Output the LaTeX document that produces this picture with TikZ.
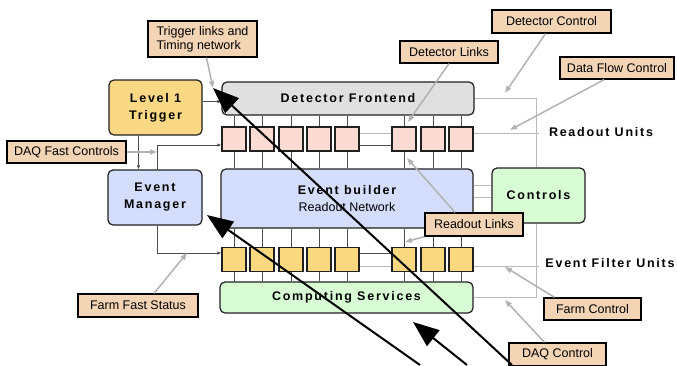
\documentclass[tikz,border=0pt]{standalone}
\usepackage{fontspec}
\setmainfont{Liberation Sans}
\newfontfamily\blockfont[LetterSpace=14]{Liberation Sans}
\usetikzlibrary{arrows.meta}

\begin{document}
\begin{tikzpicture}[x=1pt, y=-1pt,
    lbl/.style={draw=black, line width=1.3pt, fill=tanColour, inner sep=0pt, align=center,
        font=\fontsize{12.5}{14}\selectfont},
    block/.style={draw=borderColour, line width=1.2pt, rounded corners=5pt, inner sep=0pt, align=center,
        font=\blockfont\bfseries\fontsize{12.5}{17}\selectfont},
    tag/.style={inner sep=0pt, font=\blockfont\bfseries\fontsize{12.5}{14}\selectfont},
    unit/.style={draw=borderColour, line width=1.2pt, minimum width=24pt, minimum height=24pt, inner sep=0pt},
    bus/.style={draw=borderColour!80, line width=0.8pt},
    ctl/.style={draw=gray!55, line width=0.8pt},
    tick/.style={-{Latex[length=4pt, width=3.5pt]}},
    note/.style={draw=gray!60, line width=1.5pt, -{Triangle[length=7pt, width=5pt]}},
    pointer/.style={line width=2pt, -{Triangle[length=26pt, width=20pt]}}]

    % Define colours
    \definecolor{borderColour}{HTML}{202020}
    \definecolor{tanColour}{HTML}{F3D5B5}
    \definecolor{fillColourL1}{HTML}{FBD984}
    \definecolor{fillColourFE}{HTML}{E0E0E0}
    \definecolor{fillColourRU}{HTML}{FCDCD2}
    \definecolor{fillColourFU}{HTML}{FAD880}
    \definecolor{fillColourEB}{HTML}{D4DEFC}
    \definecolor{fillColourCS}{HTML}{D8FCD4}

    % Picture frame
    \clip (0,0) rectangle (677,365);

    % Main blocks
    \node[block, fill=fillColourL1, minimum width=93pt, minimum height=55pt] (l1) at (155.5,107.5) {Level 1\\Trigger};
    \node[block, fill=fillColourEB, minimum width=94pt, minimum height=55pt] (evm) at (155,197.5) {Event\\Manager};
    \node[block, fill=fillColourFE, minimum width=252pt, minimum height=33pt] (fe) at (348,98.5) {Detector Frontend};
    \node[block, fill=fillColourEB, minimum width=252pt, minimum height=59pt] (eb) at (347,198.5)
        {Event builder\\{\normalfont\fontsize{12.5}{15}\selectfont Readout Network}};
    \node[block, fill=fillColourCS, minimum width=93pt, minimum height=55pt] (ctrl) at (538.5,195.5) {Controls};
    \node[block, fill=fillColourCS, minimum width=253pt, minimum height=31pt] (cs) at (346.5,297.5) {Computing Services};

    % Readout units and event filter units
    \foreach \i/\x in {1/234,2/262,3/291,4/319,5/347,6/404,7/433,8/461} {
        \node[unit, fill=fillColourRU] (ru\i) at (\x,139) {};
        \node[unit, fill=fillColourFU] (fu\i) at (\x,259.5) {};
    }
    \node[tag] (ruText) at (601,132) {Readout Units};
    \node[tag] (fuText) at (610,263) {Event Filter Units};

    % Links to the units
    \foreach \i in {1,...,8} {
        \draw[bus] (ru\i.north) -- (ru\i.north |- fe.south);
        \draw[bus] (ru\i.south) -- (ru\i.south |- eb.north);
        \draw[bus] (fu\i.north) -- (fu\i.north |- eb.south);
        \draw[bus] (fu\i.south) -- (fu\i.south |- cs.north);
    }
    \draw[ctl] ([yshift=6pt]ru5.east) -- ([yshift=6pt]ru6.west);
    \draw[bus] ([yshift=-6pt]ru5.east) -- ([yshift=-6pt]ru6.west);
    \draw[bus] ([yshift=6.5pt]fu5.east) -- ([yshift=6.5pt]fu6.west);
    \draw[ctl] ([yshift=-6.5pt]fu5.east) -- ([yshift=-6.5pt]fu6.west);

    % Trigger and event manager links
    \draw[bus, tick] ([yshift=-3pt]l1.east |- fe.west) -- ([yshift=-3pt]fe.west);
    \draw[bus, tick] ([xshift=-17pt]l1.south) -- ([xshift=-17pt]l1.south |- evm.north);
    \draw[bus, tick] ([xshift=2pt]evm.north) |- ([yshift=-6pt]ru1.west);
    \draw[bus, tick] ([xshift=2pt]evm.south) |- ([yshift=6.5pt]fu1.west);

    % Control network
    \draw[ctl] (fe.east) -| ([xshift=-2.5pt]ctrl.north);
    \draw[ctl] ([yshift=6pt]ru8.east) -- ([yshift=6pt]ru8.east -| ctrl.north);
    \draw[ctl] ([yshift=13.5pt]eb.east) -- ([yshift=13.5pt]eb.east -| ctrl.west);
    \draw[ctl] ([yshift=1.5pt]eb.east) -- ([yshift=1.5pt]eb.east -| ctrl.west);
    \draw[ctl] ([xshift=-2.5pt]ctrl.south) |- (cs.east);
    \draw[ctl] ([yshift=-6.5pt]fu8.east) -- ([yshift=-6.5pt]fu8.east -| ctrl.south);

    % Labels
    \node[lbl, align=left, minimum width=109pt, minimum height=36pt] (trig) at (202.5,39) {Trigger links and\\Timing network};
    \node[lbl, minimum width=119pt, minimum height=22pt] (dfc) at (66.5,152) {DAQ Fast Controls};
    \node[lbl, minimum width=120pt, minimum height=23pt] (ffs) at (138,305.5) {Farm Fast Status};
    \node[lbl, minimum width=98pt, minimum height=22pt] (dl) at (449,52) {Detector Links};
    \node[lbl, minimum width=119pt, minimum height=23pt] (dc) at (551.5,21.5) {Detector Control};
    \node[lbl, minimum width=114pt, minimum height=22pt] (dfl) at (617,68) {Data Flow Control};
    \node[lbl, minimum width=98pt, minimum height=23pt] (rl) at (474,224.5) {Readout Links};
    \node[lbl, minimum width=97pt, minimum height=22pt] (fc) at (592.5,309) {Farm Control};
    \node[lbl, minimum width=97pt, minimum height=23pt] (daqc) at (557.5,354.5) {DAQ Control};

    % Label pointers
    \coordinate (trigTip) at (213,88);
    \coordinate (dfcTip) at (157,152);
    \coordinate (ffsTip) at (187,253);
    \coordinate (dlTip) at (408,122);
    \coordinate (dcTip) at (505,93);
    \coordinate (dflTip) at (510,130);
    \coordinate (rlTipA) at (407,158);
    \coordinate (rlTipB) at (405,242);
    \coordinate (fcTip) at (505,267);
    \coordinate (daqcTip) at (505,300);
    \draw[note] ([xshift=4pt]trig.south) -- (trigTip);
    \draw[note] (dfc.east) -- (dfcTip);
    \draw[note] ([xshift=16pt]ffs.north) -- (ffsTip);
    \draw[note] (dl.south) -- (dlTip);
    \draw[note] ([xshift=-6pt]dc.south) -- (dcTip);
    \draw[note] ([xshift=-13pt]dfl.south) -- (dflTip);
    \draw[note] ([xshift=-19pt]rl.north) -- (rlTipA);
    \draw[note] (rl.south west) -- (rlTipB);
    \draw[note] ([xshift=-38pt]fc.north) -- (fcTip);
    \draw[note] ([xshift=-13pt]daqc.north) -- (daqcTip);

    % Big pointers
    \coordinate (bigA) at (512,365);
    \coordinate (bigB) at (420,365);
    \coordinate (bigC) at (467,365);
    \draw[pointer] (bigA) -- (trigTip);
    \draw[pointer] (bigB) -- (207,215) coordinate (evmTip);
    \draw[pointer] (bigC) -- (413,322) coordinate (csTip);

\end{tikzpicture}
\end{document}
